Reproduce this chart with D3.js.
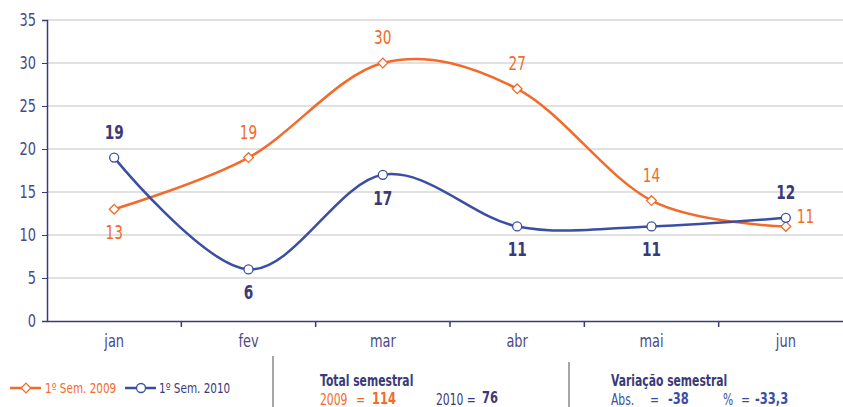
<!DOCTYPE html>
<html>
<head>
<meta charset="utf-8">
<script src="https://cdn.jsdelivr.net/npm/d3@7"></script>
<style>
  body { margin: 0; background: #fff; }
  svg text { font-family: "DejaVu Sans", sans-serif; }
</style>
</head>
<body>
<script>
var width = 843
var height = 407

// data
var months = ["jan", "fev", "mar", "abr", "mai", "jun"];
var sem2009 = [13, 19, 30, 27, 14, 11];
var sem2010 = [19, 6, 17, 11, 11, 12];
var yTicks = [0, 5, 10, 15, 20, 25, 30, 35];
// where each value label sits
var place2009 = ["below", "above", "above", "above", "above", "right"];
var place2010 = ["above", "below", "below", "below", "below", "above"];

var orange = "#f26b2a";
var blue = "#3a4fa3";
var navy = "#3b3a78";

// the original font is a condensed one, so squeeze text horizontally
var k = 0.72
function squeeze(sel) {
  sel.each(function() {
    var t = d3.select(this)
    var xv = +t.attr("x") || 0
    t.attr("x", xv / k).attr("transform", "scale(" + k + ",1)")
  })
}

var svg = d3.select("body").append("svg")
    .attr("width", width)
    .attr("height", height)

var x = d3.scaleBand()
    .domain(months)
    .range([47, 853])

var y = d3.scaleLinear()
    .domain([0, 35])
    .range([321, 20])

var cx = function(i) { return x(months[i]) + x.bandwidth() / 2 }

// grid
svg.append("g")
  .selectAll("line")
  .data(yTicks.slice(1))
  .join("line")
    .attr("x1", 47)
    .attr("x2", width)
    .attr("y1", d => y(d))
    .attr("y2", d => y(d))
    .attr("stroke", "#c4c4c4")
    .attr("stroke-width", 1.2)

// y axis
var yAxis = svg.append("g")
    .attr("transform", "translate(47,0)")
    .call(d3.axisLeft(y).tickValues(yTicks).tickSize(5).tickPadding(6))
yAxis.select(".domain").attr("stroke", navy).attr("stroke-width", 1.5)
yAxis.selectAll(".tick line").attr("stroke", navy)
yAxis.selectAll("text").attr("fill", "#4a4a86").style("font-size", "18px").call(squeeze)

// x axis
var xAxis = svg.append("g")
    .attr("transform", "translate(0,321)")
    .call(d3.axisBottom(x).tickSize(0).tickPadding(13))
xAxis.select(".domain").attr("stroke", navy).attr("stroke-width", 1.5)
xAxis.selectAll("text").attr("fill", "#4a4a86").style("font-size", "18px").call(squeeze)

// boundary ticks between months
svg.append("g")
  .selectAll("line")
  .data(months.slice(1))
  .join("line")
    .attr("x1", d => x(d))
    .attr("x2", d => x(d))
    .attr("y1", 321)
    .attr("y2", 327)
    .attr("stroke", navy)
    .attr("stroke-width", 1.5)

var line = d3.line()
    .x((d, i) => cx(i))
    .y(d => y(d))
    .curve(d3.curveCatmullRom.alpha(0))

svg.append("path")
    .datum(sem2009)
    .attr("d", line)
    .attr("fill", "none")
    .attr("stroke", orange)
    .attr("stroke-width", 2.5)

svg.append("path")
    .datum(sem2010)
    .attr("d", line)
    .attr("fill", "none")
    .attr("stroke", blue)
    .attr("stroke-width", 2.5)

// markers
var diamond = d3.symbol().type(d3.symbolDiamond2).size(60)
svg.append("g")
  .selectAll("path")
  .data(sem2009)
  .join("path")
    .attr("d", diamond)
    .attr("transform", (d, i) => "translate(" + cx(i) + "," + y(d) + ")")
    .attr("fill", "#fff")
    .attr("stroke", orange)
    .attr("stroke-width", 1.3)

svg.append("g")
  .selectAll("circle")
  .data(sem2010)
  .join("circle")
    .attr("cx", (d, i) => cx(i))
    .attr("cy", d => y(d))
    .attr("r", 4.5)
    .attr("fill", "#fff")
    .attr("stroke", blue)
    .attr("stroke-width", 1.3)

// value labels
function labels(values, places, color, weight) {
  svg.append("g")
    .selectAll("text")
    .data(values)
    .join("text")
      .attr("x", (d, i) => places[i] == "right" ? cx(i) + 11 : cx(i))
      .attr("y", (d, i) => {
        if (places[i] == "above") return y(d) - 19
        if (places[i] == "below") return y(d) + 30
        return y(d) - 3
      })
      .attr("text-anchor", (d, i) => places[i] == "right" ? "start" : "middle")
      .attr("fill", color)
      .style("font-size", "19px")
      .style("font-weight", weight)
      .text(d => d)
      .call(squeeze)
}
labels(sem2009, place2009, orange, "normal")
labels(sem2010, place2010, navy, "bold")

// legend
var legend = svg.append("g")
legend.append("line").attr("x1", 10).attr("x2", 41).attr("y1", 388).attr("y2", 388)
    .attr("stroke", orange).attr("stroke-width", 2.5)
legend.append("path").attr("d", diamond).attr("transform", "translate(26,388)")
    .attr("fill", "#fff").attr("stroke", orange).attr("stroke-width", 1.3)
legend.append("line").attr("x1", 125).attr("x2", 156).attr("y1", 388).attr("y2", 388)
    .attr("stroke", blue).attr("stroke-width", 2.5)
legend.append("circle").attr("cx", 141).attr("cy", 388).attr("r", 4.5)
    .attr("fill", "#fff").attr("stroke", blue).attr("stroke-width", 1.3)

// separators
svg.append("line").attr("x1", 273).attr("x2", 273).attr("y1", 356).attr("y2", height)
    .attr("stroke", "#888").attr("stroke-width", 1.5)
svg.append("line").attr("x1", 569).attr("x2", 569).attr("y1", 362).attr("y2", height)
    .attr("stroke", "#888").attr("stroke-width", 1.5)

// totals
var tot2009 = d3.sum(sem2009)
var tot2010 = d3.sum(sem2010)
var diffAbs = tot2010 - tot2009
var diffPct = (diffAbs / tot2009 * 100).toFixed(1).replace(".", ",")

function txt(xp, yp, s, color, size, weight) {
  svg.append("text").attr("x", xp).attr("y", yp).attr("fill", color)
      .style("font-size", size + "px").style("font-weight", weight).text(s)
      .call(squeeze)
}
txt(45, 393, "1º Sem. 2009", orange, 14.5, "normal")
txt(159, 393, "1º Sem. 2010", navy, 14.5, "normal")

txt(320, 386, "Total semestral", navy, 15, "bold")
txt(320, 405, "2009", orange, 15, "normal")
txt(356, 405, "=", orange, 15, "normal")
txt(372, 404, tot2009, orange, 16, "bold")
txt(436, 405, "2010 =", navy, 15, "normal")
txt(482, 403, tot2010, navy, 16, "bold")

txt(611, 386, "Variação semestral", navy, 15, "bold")
txt(611, 405, "Abs.", blue, 15, "normal")
txt(650, 405, "=", blue, 15, "normal")
txt(668, 404, diffAbs, blue, 16, "bold")
txt(723, 405, "%", blue, 15, "normal")
txt(741, 405, "=", blue, 15, "normal")
txt(755, 404, diffPct, blue, 16, "bold")
</script>
</body>
</html>
